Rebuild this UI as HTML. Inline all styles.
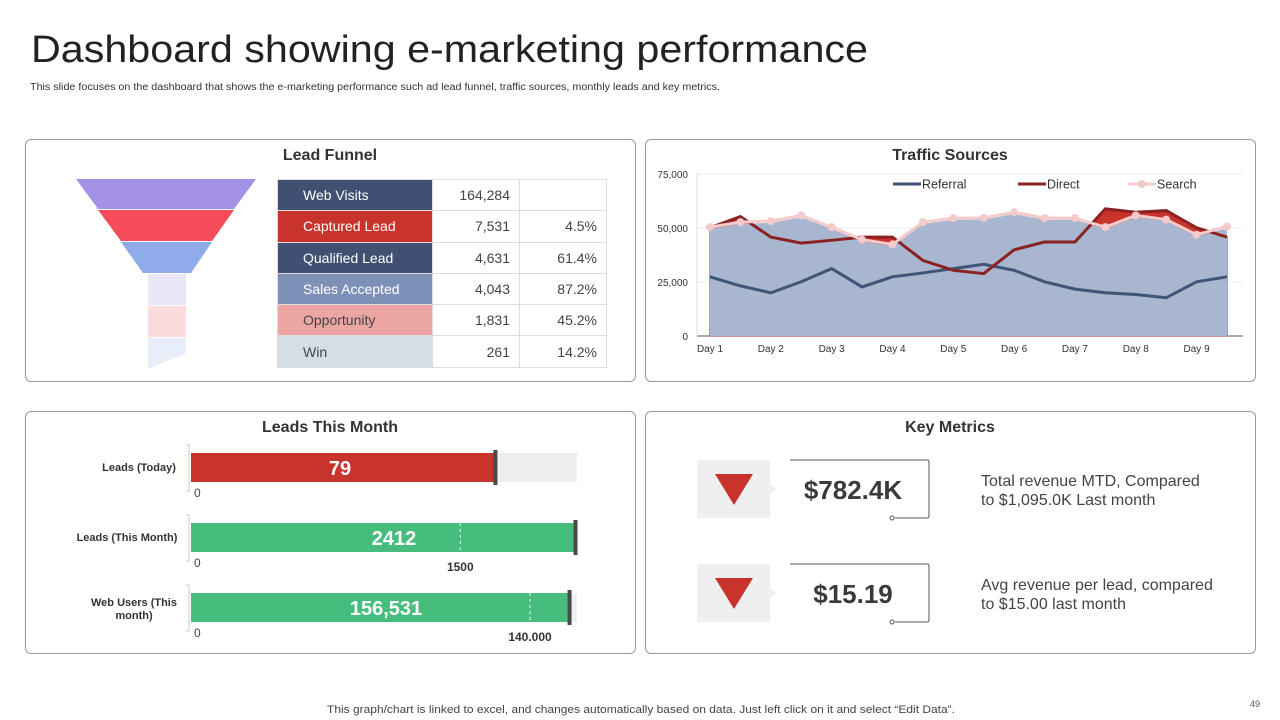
<!DOCTYPE html>
<html><head><meta charset="utf-8">
<style>
body{margin:0;width:1280px;height:720px;background:#fff;font-family:"Liberation Sans",sans-serif;position:relative;overflow:hidden;color:#333}
.abs{position:absolute}
.panel{position:absolute;border:1px solid #9a9a9a;border-radius:6px;background:#fff}
.ptitle{position:absolute;font-size:16px;font-weight:bold;color:#333;text-align:center}
table{border-collapse:collapse;position:absolute;left:277px;top:179px;font-size:14px}
td{height:31.3px;border:1px solid #ddd;padding:0}
td.l{width:155px;padding-left:25px;box-sizing:border-box;color:#fff}
td.n{width:87px;text-align:right;padding-right:9px;box-sizing:border-box;color:#444}
td.p{width:87px;text-align:right;padding-right:9px;box-sizing:border-box;color:#444}
</style></head><body>
<svg class="abs" style="left:0;top:20px" width="900" height="60"><text x="31" y="42" font-family="Liberation Sans, sans-serif" font-size="38" fill="#222" textLength="837" lengthAdjust="spacingAndGlyphs">Dashboard showing e-marketing performance</text></svg>
<svg class="abs" style="left:0;top:78px" width="760" height="16"><text x="30" y="12" font-family="Liberation Sans, sans-serif" font-size="10" fill="#333" textLength="690" lengthAdjust="spacingAndGlyphs">This slide focuses on the dashboard that shows the e-marketing performance such ad lead funnel, traffic sources, monthly leads and key metrics.</text></svg>

<div class="panel" style="left:25px;top:139px;width:609px;height:241px"></div>
<div class="ptitle" style="left:230px;top:147px;width:200px">Lead Funnel</div>
<svg class="abs" style="left:0;top:0" width="280" height="380">
<polygon points="76,179 256,179 234,209 98,209" fill="#a391e6"/>
<polygon points="98,210 234,210 212,241 121,241" fill="#f64b5a"/>
<polygon points="121,242 212,242 191,273 143,273" fill="#8fabe9"/>
<rect x="148" y="274" width="38" height="31" fill="#ebe7f8"/>
<rect x="148" y="306" width="38" height="31" fill="#fbdcdd"/>
<polygon points="148,338 186,338 186,353 148,369" fill="#e8eef9"/>
</svg>
<table>
<tr><td class="l" style="background:#3f5072">Web Visits</td><td class="n">164,284</td><td class="p"></td></tr>
<tr><td class="l" style="background:#c8332b">Captured Lead</td><td class="n">7,531</td><td class="p">4.5%</td></tr>
<tr><td class="l" style="background:#3f5072">Qualified Lead</td><td class="n">4,631</td><td class="p">61.4%</td></tr>
<tr><td class="l" style="background:#7d91b6">Sales Accepted</td><td class="n">4,043</td><td class="p">87.2%</td></tr>
<tr><td class="l" style="background:#eba5a3;color:#444">Opportunity</td><td class="n">1,831</td><td class="p">45.2%</td></tr>
<tr><td class="l" style="background:#d5dde7;color:#444">Win</td><td class="n">261</td><td class="p">14.2%</td></tr>
</table>

<div class="panel" style="left:645px;top:139px;width:609px;height:241px"></div>
<div class="ptitle" style="left:850px;top:147px;width:200px">Traffic Sources</div>
<svg id="traffic" class="abs" style="left:0;top:0" width="1280" height="380"></svg>

<div class="panel" style="left:25px;top:411px;width:609px;height:241px"></div>
<div class="ptitle" style="left:230px;top:419px;width:200px">Leads This Month</div>
<svg id="leads" class="abs" style="left:0;top:0" width="640" height="660"></svg>

<div class="panel" style="left:645px;top:411px;width:609px;height:241px"></div>
<div class="ptitle" style="left:850px;top:419px;width:200px">Key Metrics</div>
<svg class="abs" style="left:0;top:0" width="1280" height="660">
<g>
<rect x="697" y="460" width="73" height="58" fill="#efefef"/>
<polygon points="770,484 776,489 770,494" fill="#efefef"/>
<polygon points="715,474 753,474 734,505" fill="#c8332b"/>
<path d="M790,460 H927 Q929,460 929,462 V516 Q929,518 927,518 H895" fill="none" stroke="#555" stroke-width="1"/>
<circle cx="892" cy="518" r="2" fill="#fff" stroke="#555"/>
<text x="853" y="499" text-anchor="middle" font-size="26" font-weight="bold" fill="#3a3a3a" font-family="Liberation Sans, sans-serif">$782.4K</text>
<text x="981" y="486" font-size="16" fill="#444" font-family="Liberation Sans, sans-serif">Total revenue MTD, Compared</text>
<text x="981" y="505" font-size="16" fill="#444" font-family="Liberation Sans, sans-serif">to $1,095.0K Last month</text>
</g>
<g>
<rect x="697" y="564" width="73" height="58" fill="#efefef"/>
<polygon points="770,588 776,593 770,598" fill="#efefef"/>
<polygon points="715,578 753,578 734,609" fill="#c8332b"/>
<path d="M790,564 H927 Q929,564 929,566 V620 Q929,622 927,622 H895" fill="none" stroke="#555" stroke-width="1"/>
<circle cx="892" cy="622" r="2" fill="#fff" stroke="#555"/>
<text x="853" y="603" text-anchor="middle" font-size="26" font-weight="bold" fill="#3a3a3a" font-family="Liberation Sans, sans-serif">$15.19</text>
<text x="981" y="590" font-size="16" fill="#444" font-family="Liberation Sans, sans-serif">Avg revenue per lead, compared</text>
<text x="981" y="609" font-size="16" fill="#444" font-family="Liberation Sans, sans-serif">to $15.00 last month</text>
</g>
</svg>

<svg class="abs" style="left:0;top:700px" width="1280" height="18"><text x="327" y="13" font-family="Liberation Sans, sans-serif" font-size="11" fill="#444" textLength="628" lengthAdjust="spacingAndGlyphs">This graph/chart is linked to excel, and changes automatically based on data. Just left click on it and select “Edit Data”.</text></svg>
<div class="abs" style="left:1250px;top:699px;font-size:9px;color:#555">49</div>

<script>
const dayLabels=["Day 1","Day 2","Day 3","Day 4","Day 5","Day 6","Day 7","Day 8","Day 9"];
const yTicks=[0,25000,50000,75000];
const referral=[27400,23200,20000,25100,31200,22700,27400,29200,31200,33200,30400,25100,21700,20000,19200,17700,25100,27400];
const direct=[50100,55300,45800,43000,44300,45800,45800,35000,30400,28900,39900,43500,43500,58900,57300,58100,50100,45800];
const search=[50400,52700,53200,55800,50400,44600,42400,52700,54600,54700,57300,54600,54600,50400,55800,53900,46900,50700];
const leadCats=["Leads (Today)","Leads (This Month)","Web Users (This month)"];
const leadValues=[79,2412,156531];
const leadLabels=["79","2412","156,531"];
const leadTargets=[null,1500,140000];
const leadTargetLabels=["","1500","140.000"];
const leadMax=[100,2150,159400];
const leadBg=[100,2150,159400];

(function(){
const NS="http://www.w3.org/2000/svg";
const svg=document.getElementById('traffic');
function mk(t,a,p){const e=document.createElementNS(NS,t);for(const k in a)e.setAttribute(k,a[k]);(p||svg).appendChild(e);return e;}
const x0=710,x1=1227,yb=336,yt=174;
const X=i=>x0+(x1-x0)*i/(search.length-1);
const Y=v=>yb-(yb-yt)*v/75000;
yTicks.forEach(t=>{
 const g=mk('line',{x1:697,x2:1243,y1:Y(t),y2:Y(t),stroke:t?'#eeeeee':'#555','stroke-width':1});
 
 
 const tx=mk('text',{x:688,y:Y(t)+4,'text-anchor':'end','font-size':10,fill:'#333','font-family':'Liberation Sans, sans-serif'});
 tx.textContent=t.toLocaleString('en-US');
 
 
});
mk('line',{x1:697,x2:697,y1:yt,y2:yb,stroke:'#ddd'});
function area(arr){let d='M'+X(0)+','+yb;arr.forEach((v,i)=>d+=' L'+X(i)+','+Y(v));return d+' L'+X(arr.length-1)+','+yb+' Z';}
function line(arr){return arr.map((v,i)=>(i?'L':'M')+X(i)+','+Y(v)).join(' ');}
const a1=mk('path',{d:area(direct),fill:'#c8332b',stroke:'#a52a22','stroke-width':1});


const a2=mk('path',{d:area(search.map(v=>v-800)),fill:'#a8b6cf'});


const l1=mk('path',{d:line(referral),fill:'none',stroke:'#3f5577','stroke-width':3});


const l2=mk('path',{d:line(direct),fill:'none',stroke:'#8b2222','stroke-width':3});


const l3=mk('path',{d:line(search),fill:'none',stroke:'#f4caca','stroke-width':3});


search.forEach((v,i)=>{const c=mk('circle',{cx:X(i),cy:Y(v),r:4,fill:'#f4caca'});
 
 });
dayLabels.forEach((d,i)=>{const t=mk('text',{x:X(i*2),y:352,'text-anchor':'middle','font-size':10,fill:'#333','font-family':'Liberation Sans, sans-serif'});t.textContent=d;
 
 });
const leg=[["Referral","#3f5577",893],["Direct","#8b2222",1018],["Search","#f4caca",1128]];
leg.forEach(l=>{const g=mk('g',{});
 
 
 mk('line',{x1:l[2],x2:l[2]+28,y1:184,y2:184,stroke:l[1],'stroke-width':3},g);
 if(l[0]==='Search')mk('circle',{cx:l[2]+14,cy:184,r:4,fill:l[1]},g);
 const t=mk('text',{x:l[2]+29,y:188.5,'font-size':12.5,fill:'#333','font-family':'Liberation Sans, sans-serif'},g);t.textContent=l[0];});
})();

(function(){
const NS="http://www.w3.org/2000/svg";
const svg=document.getElementById('leads');
function mk(t,a,p){const e=document.createElementNS(NS,t);for(const k in a)e.setAttribute(k,a[k]);(p||svg).appendChild(e);return e;}
const bx=191,bw=386;
const tops=[453,523,593];
leadCats.forEach((c,i)=>{
 const S=v=>Math.min(bx+bw*v/leadMax[i],bx+bw);
 const y=tops[i];
 mk('path',{d:`M${bx-5},${y-8} h3 v46 h-3`,stroke:'#ccc',fill:'none'});
 const bg=mk('rect',{x:bx,y:y,width:S(leadBg[i])-bx,height:29,fill:'#efefef'});
 
 
 const b=mk('rect',{x:bx,y:y,width:S(leadValues[i])-bx,height:29,fill:i?'#47bd7d':'#c8332b'});
 
 
 const mx=Math.min(S(leadValues[i]),bx+bw-1);
 const m=mk('rect',{x:mx-2.5,y:y-3,width:4,height:35,fill:'#4a4a4a'});
 
 
 const vt=mk('text',{x:i===0?340:(i===1?394:386),y:y+22,'text-anchor':'middle','font-size':20,'font-weight':'bold',fill:'#fff','font-family':'Liberation Sans, sans-serif'});vt.textContent=leadLabels[i];
 
 
 const lines=c==="Web Users (This month)"?["Web Users (This","month)"]:[c];
 lines.forEach((ln,k)=>{const t=mk('text',{x:i===2?134:(i===1?127:139),y:y+(lines.length>1?13+k*13:18),'text-anchor':'middle','font-size':11,'font-weight':'bold',fill:'#333','font-family':'Liberation Sans, sans-serif'});t.textContent=ln;
  
  });
 const z=mk('text',{x:194,y:y+44,'font-size':12,fill:'#444','font-family':'Liberation Sans, sans-serif'});z.textContent='0';
 if(leadTargets[i]!==null){
  const tx=S(leadTargets[i]);
  const d=mk('line',{x1:tx,x2:tx,y1:y,y2:y+29,stroke:'#e8f5ee','stroke-dasharray':'3,3'});
  
  
  const tl=mk('text',{x:tx,y:y+48,'text-anchor':'middle','font-size':12,'font-weight':'bold',fill:'#333','font-family':'Liberation Sans, sans-serif'});tl.textContent=leadTargetLabels[i];
  
  
 }
});
})();
</script>
</body></html>
